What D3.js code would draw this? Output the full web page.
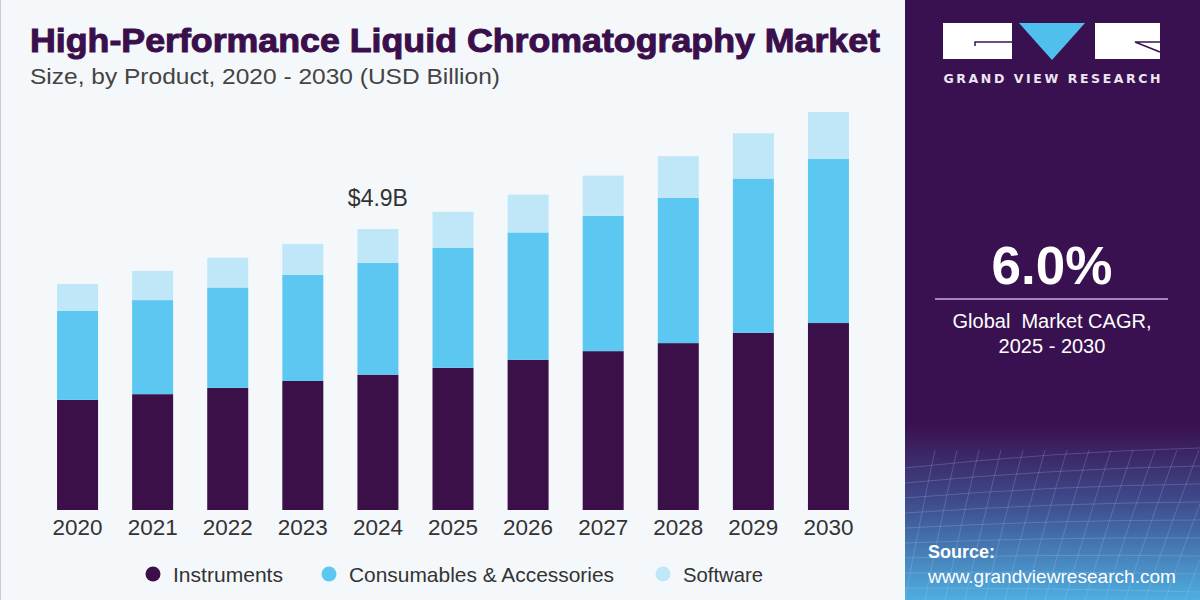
<!DOCTYPE html>
<html>
<head>
<meta charset="utf-8">
<script src="https://cdn.jsdelivr.net/npm/d3@7"></script>
<style>
    body { margin: 0; background: #f5f8fb; }
    svg { display: block; }
    .narrow { font-family: "Liberation Sans Narrow", "Arial Narrow", "Liberation Sans", sans-serif; }
</style>
</head>
<body>
<div id="chart"></div>
<script>
// chart data
let years = ["2020", "2021", "2022", "2023", "2024", "2025", "2026", "2027", "2028", "2029", "2030"]
let instruments = [1.92, 2.02, 2.13, 2.25, 2.36, 2.48, 2.62, 2.77, 2.91, 3.09, 3.26]
let consumables = [1.55, 1.64, 1.75, 1.85, 1.95, 2.09, 2.22, 2.36, 2.53, 2.69, 2.86]
let software = [0.47, 0.51, 0.52, 0.54, 0.59, 0.63, 0.66, 0.70, 0.73, 0.79, 0.82]
let seriesKeys = ["Instruments", "Consumables & Accessories", "Software"]
let seriesColors = ["#3b0f48", "#5cc8f2", "#bfe7f8"]
let annotation = {year: "2024", label: "$4.9B"}

let width = 1200, height = 600

let svg = d3.select("#chart").append("svg")
    .attr("width", width)
    .attr("height", height)

svg.append("rect")
    .attr("width", width).attr("height", height)
    .attr("fill", "#f5f8fb")
svg.append("line")
    .attr("x1", 0.5).attr("x2", 0.5).attr("y1", 0).attr("y2", height)
    .attr("stroke", "#c9ccd2")

// table for the stack
let table = years.map((y, i) => ({
    year: y,
    "Instruments": instruments[i],
    "Consumables & Accessories": consumables[i],
    "Software": software[i]
}))

let stacked = d3.stack().keys(seriesKeys)(table)

// scales
let x = d3.scaleBand()
    .domain(years)
    .range([40, 866])
    .paddingInner(0.454)
    .paddingOuter(0.227)

let y = d3.scaleLinear()
    .domain([0, 7])
    .range([510, 510 - 7 * 57.35])

let color = d3.scaleOrdinal().domain(seriesKeys).range(seriesColors)

// title
svg.append("text")
    .attr("x", 30).attr("y", 52)
    .attr("textLength", 850)
    .attr("lengthAdjust", "spacingAndGlyphs")
    .style("font-family", "'Liberation Sans', Arial, sans-serif")
    .style("font-weight", 900)
    .style("font-size", "33px")
    .style("fill", "#3a0f4b")
    .style("stroke", "#3a0f4b")
    .style("stroke-width", "1px")
    .text("High-Performance Liquid Chromatography Market")

svg.append("text")
    .attr("class", "narrow")
    .attr("x", 30).attr("y", 84)
    .attr("textLength", 470)
    .attr("lengthAdjust", "spacingAndGlyphs")
    .style("font-size", "22px")
    .style("fill", "#444")
    .text("Size, by Product, 2020 - 2030 (USD Billion)")

// bars
let layers = svg.append("g").selectAll("g")
    .data(stacked)
    .enter()
    .append("g")
    .attr("fill", d => color(d.key))

layers.selectAll("rect")
    .data(d => d)
    .enter()
    .append("rect")
    .attr("x", d => x(d.data.year))
    .attr("width", x.bandwidth())
    .attr("y", d => y(d[1]))
    .attr("height", d => y(d[0]) - y(d[1]))

// x axis labels
let xAxis = d3.axisBottom(x).tickSize(0).tickPadding(9)
let axisG = svg.append("g")
    .attr("transform", `translate(0, ${y(0)})`)
    .call(xAxis)
axisG.select(".domain").remove()
axisG.selectAll("text")
    .attr("class", "narrow")
    .attr("textLength", 50)
    .attr("lengthAdjust", "spacingAndGlyphs")
    .style("font-size", "22px")
    .style("fill", "#333")

// annotation above 2024
let idx = years.indexOf(annotation.year)
let total2024 = d3.sum(stacked, s => s[idx][1] - s[idx][0])
svg.append("text")
    .attr("x", x(annotation.year) + x.bandwidth() / 2)
    .attr("y", y(total2024) - 23)
    .attr("text-anchor", "middle")
    .style("font-family", "'Liberation Sans', Arial, sans-serif")
    .style("font-size", "23px")
    .style("fill", "#333")
    .text(annotation.label)

// legend
let legendX = [153, 329, 663]
let legendW = [110, 265, 80]
let legend = svg.append("g").selectAll("g")
    .data(seriesKeys)
    .enter()
    .append("g")
    .attr("transform", (d, i) => `translate(${legendX[i]}, 574)`)
legend.append("circle")
    .attr("r", 7.5)
    .attr("fill", d => color(d))
legend.append("text")
    .attr("class", "narrow")
    .attr("x", 20).attr("y", 7.5)
    .attr("textLength", (d, i) => legendW[i])
    .attr("lengthAdjust", "spacingAndGlyphs")
    .style("font-size", "21px")
    .style("fill", "#333")
    .text(d => d)

// right panel
let panelX = 905
let defs = svg.append("defs")
let grad = defs.append("linearGradient")
    .attr("id", "panelGrad")
    .attr("x1", 0).attr("x2", 0).attr("y1", 0).attr("y2", 1)
grad.append("stop").attr("offset", "0%").attr("stop-color", "#3a1150")
grad.append("stop").attr("offset", "71%").attr("stop-color", "#3a1150")
grad.append("stop").attr("offset", "84%").attr("stop-color", "#3f4d8e")
grad.append("stop").attr("offset", "100%").attr("stop-color", "#4eaee0")

svg.append("rect")
    .attr("x", panelX).attr("y", 0)
    .attr("width", width - panelX).attr("height", height)
    .attr("fill", "url(#panelGrad)")

// faint mesh lines near the bottom of the panel
let mesh = svg.append("g")
    .attr("stroke", "#a9dcf6")
    .attr("stroke-opacity", 0.22)
    .attr("fill", "none")
d3.range(0, 10).forEach(i => {
    mesh.append("path")
        .attr("d", `M${panelX},${468 + i * 15} Q1050,${452 + i * 17} 1200,${448 + i * 18}`)
})
d3.range(0, 16).forEach(i => {
    mesh.append("path")
        .attr("d", `M${panelX + i * 20},600 Q${panelX + i * 21 + 15},520 ${panelX + i * 22 + 30},450`)
})

// logo
let logo = svg.append("g")
logo.append("rect").attr("x", 943).attr("y", 23).attr("width", 69).attr("height", 36).attr("fill", "#fff")
logo.append("rect").attr("x", 1095).attr("y", 23).attr("width", 65).attr("height", 36).attr("fill", "#fff")
logo.append("path").attr("d", "M1019,23 L1085,23 L1052,60 Z").attr("fill", "#4fc0ee")
logo.append("path").attr("d", "M975,46 L975,42 L1012,42").attr("stroke", "#3a1150").attr("stroke-width", 1.5).attr("fill", "none")
logo.append("path").attr("d", "M1160,42 L1135,42 L1160,52").attr("stroke", "#3a1150").attr("stroke-width", 1.5).attr("fill", "none")
svg.append("text")
    .attr("x", 1052).attr("y", 83)
    .attr("text-anchor", "middle")
    .attr("textLength", 217)
    .style("font-family", "'DejaVu Sans', sans-serif")
    .style("font-weight", "bold")
    .style("font-size", "12.5px")
    .style("fill", "#ece6f3")
    .text("GRAND VIEW RESEARCH")

// CAGR
svg.append("text")
    .attr("x", 1052).attr("y", 284)
    .attr("text-anchor", "middle")
    .style("font-family", "'Liberation Sans', Arial, sans-serif")
    .style("font-weight", "bold")
    .style("font-size", "53px")
    .style("fill", "#fff")
    .text("6.0%")
svg.append("line")
    .attr("x1", 935).attr("x2", 1168).attr("y1", 299).attr("y2", 299)
    .attr("stroke", "#c2aedb").attr("stroke-width", 1.5)
svg.append("text")
    .attr("x", 1052).attr("y", 328)
    .attr("text-anchor", "middle")
    .attr("class", "narrow")
    .style("font-size", "20px")
    .style("fill", "#fff")
    .style("white-space", "pre")
    .text("Global  Market CAGR,")
svg.append("text")
    .attr("x", 1052).attr("y", 353)
    .attr("text-anchor", "middle")
    .attr("class", "narrow")
    .style("font-size", "20px")
    .style("fill", "#fff")
    .text("2025 - 2030")

// source
svg.append("text")
    .attr("x", 928).attr("y", 558)
    .attr("class", "narrow")
    .style("font-weight", "bold")
    .style("font-size", "18px")
    .style("fill", "#fff")
    .text("Source:")
svg.append("text")
    .attr("x", 928).attr("y", 583)
    .attr("class", "narrow")
    .attr("textLength", 248)
    .attr("lengthAdjust", "spacingAndGlyphs")
    .style("font-size", "18px")
    .style("fill", "#fff")
    .text("www.grandviewresearch.com")
</script>
</body>
</html>
